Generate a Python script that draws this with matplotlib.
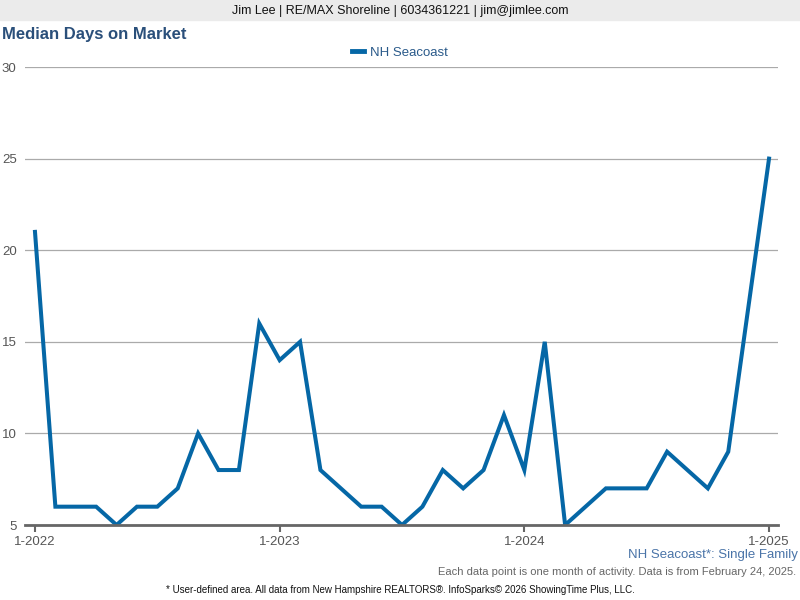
import matplotlib
matplotlib.use("Agg")
import matplotlib.pyplot as plt

# =========================================================
# DONNEES
# =========================================================

months = list(range(37))  # 1-2022 .. 1-2025
median_dom = [21, 6, 6, 6, 5, 6, 6, 7, 10, 8, 8, 16,
              14, 15, 8, 7, 6, 6, 5, 6, 8, 7, 8, 11,
              8, 15, 5, 6, 7, 7, 7, 9, 8, 7, 9, 17,
              25]
tick_pos = [0, 12, 24, 36]
tick_labels = ["1-2022", "1-2023", "1-2024", "1-2025"]
y_ticks = [5, 10, 15, 20, 25, 30]

LINE_COLOR = "#0567a6"
GRAY_TXT = "#555555"

plt.rcParams["font.family"] = ["Liberation Sans", "DejaVu Sans"]

fig = plt.figure(figsize=(8, 6), dpi=100)
ax = fig.add_axes([0.03125, 0.125, 0.94125, 0.7633])

ax.plot(months, median_dom, color=LINE_COLOR, linewidth=2.9,
        solid_joinstyle="miter", label="NH Seacoast")

ax.set_xlim(-0.49, 36.44)
ax.set_ylim(5, 30)
ax.set_yticks(y_ticks)
ax.set_xticks(tick_pos)
ax.set_xticklabels(tick_labels)
ax.grid(axis="y", color="#aaaaaa", linewidth=0.9)
ax.set_axisbelow(True)

for s in ["top", "right", "left"]:
    ax.spines[s].set_visible(False)
ax.spines["bottom"].set_color("#666666")
ax.spines["bottom"].set_linewidth(2)
ax.tick_params(axis="y", length=0, pad=6, labelsize=9.5, labelcolor=GRAY_TXT)
ax.tick_params(axis="x", length=5, width=1.5, color="#666666",
               labelsize=9.5, labelcolor=GRAY_TXT, pad=3)

leg = fig.legend(loc="center", bbox_to_anchor=(0.5, 1 - 53 / 600), frameon=False,
                 fontsize=9.5, handlelength=0.9, handletextpad=0.5)
for t in leg.get_texts():
    t.set_color("#2a5a8a")
for h in leg.get_lines():
    h.set_linewidth(3.5)

# bandeau en haut
fig.patches.append(plt.Rectangle((0, 1 - 20 / 600), 1, 20 / 600,
                                 transform=fig.transFigure,
                                 color="#ebebeb", zorder=0))
fig.text(0.5, 1 - 11 / 600, "Jim Lee | RE/MAX Shoreline | 6034361221 | jim@jimlee.com",
         ha="center", va="center", fontsize=9, color="#111111")
fig.text(0.002, 1 - 35 / 600, "Median Days on Market", ha="left", va="center",
         fontsize=12, fontweight="bold", color="#2a4f7a")

fig.text(0.9975, 1 - 555 / 600, "NH Seacoast*: Single Family", ha="right",
         va="center", fontsize=9.5, color="#4a74a8")
fig.text(0.995, 1 - 572 / 600,
         "Each data point is one month of activity. Data is from February 24, 2025.",
         ha="right", va="center", fontsize=8, color="#666666")
fig.text(0.5, 1 - 590 / 600,
         "* User-defined area. All data from New Hampshire REALTORS\u00ae. InfoSparks\u00a9 2026 ShowingTime Plus, LLC.",
         ha="center", va="center", fontsize=7, color="#111111")

fig.savefig("out.png", dpi=100)
